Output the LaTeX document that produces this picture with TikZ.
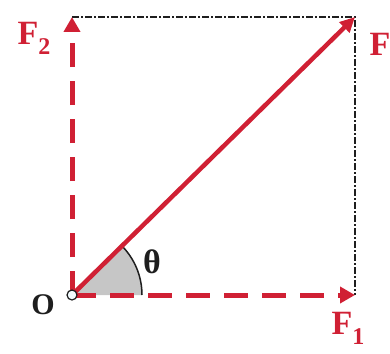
\documentclass[tikz,border=0pt]{standalone}
\usepackage{fontspec}
\setmainfont{Liberation Serif}
\usetikzlibrary{arrows.meta}
\definecolor{vred}{RGB}{208,32,52}
\definecolor{ink}{RGB}{30,30,30}
\newcommand{\lowsub}[1]{\raisebox{-0.3em}{\fontsize{24}{24}\selectfont #1}}
\begin{document}
\begin{tikzpicture}[x=1pt,y=-1pt,
  vec/.style={vred,line width=4.5pt,-{Triangle[length=15pt,width=14pt]}},
  comp/.style={vred,line width=5pt,dash pattern=on 24pt off 14pt,-{Triangle[length=15pt,width=16pt]}},
  guide/.style={ink,line width=1.5pt,dash pattern=on 7pt off 2pt on 2pt off 2pt},
  flabel/.style={vred,font=\fontsize{34}{34}\selectfont\bfseries},
  blabel/.style={ink,font=\fontsize{30}{30}\selectfont\bfseries}]
\useasboundingbox (0,0) rectangle (390,353);
\coordinate (O) at (72,295);
\coordinate (A) at (355,295);
\coordinate (B) at (72,17);
\coordinate (C) at (355,17);
\fill[gray!45] (O) -- ++(0:70) arc[start angle=0,end angle=-45,radius=70] -- cycle;
\draw[ink,line width=1.5pt] (O) ++(0:70) arc[start angle=0,end angle=-45,radius=70];
\draw[guide] (B) -- (C) -- (A);
\draw[comp] (O) -- (A);
\draw[comp] (O) -- (B);
\draw[vec] (O) -- (C);
\draw[ink,fill=cyan!5,line width=1.2pt] (O) circle (5);
\node[flabel] (lF2) at (34,38) {F\lowsub{2}};
\node[flabel,anchor=west] (lF) at (366,44) {F};
\node[flabel] (lF1) at (348,328) {F\lowsub{1}};
\node[blabel] (lO) at (43,305) {O};
\node[blabel,font=\fontsize{34}{34}\selectfont\bfseries] (lt) at (152,262) {θ};
\end{tikzpicture}
\end{document}
